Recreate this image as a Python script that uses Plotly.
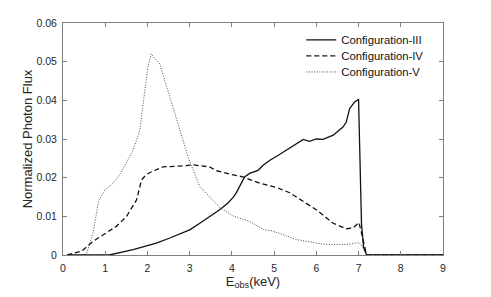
import plotly.graph_objects as go

# Configuration-III (solid)
x3 = [0.1, 0.5, 1.1, 1.66, 2.21, 2.53, 3.0, 3.24, 3.47, 3.71, 3.9, 4.03, 4.1, 4.2, 4.3, 4.42, 4.5, 4.62, 4.74, 4.9,
      5.1, 5.29, 5.53, 5.69, 5.84, 6.0, 6.16, 6.4, 6.63, 6.71, 6.79, 6.91, 7.0, 7.07, 7.12, 7.19, 8.0, 9.0]
y3 = [0.0, 0.0, 0.0, 0.0014, 0.0031, 0.0044, 0.0065, 0.0082, 0.0099, 0.0117, 0.0134, 0.0149, 0.016, 0.018, 0.0202, 0.0211, 0.0215, 0.0219, 0.0232, 0.0245,
      0.0258, 0.0271, 0.0289, 0.0299, 0.0294, 0.030, 0.0299, 0.031, 0.0331, 0.0344, 0.0379, 0.0396, 0.0403, 0.008, 0.002, 0.0, 0.0, 0.0]

# Configuration-IV (dashed)
x4 = [0.1, 0.44, 0.71, 1.03, 1.26, 1.5, 1.74, 1.86, 1.97, 2.13, 2.37, 2.76, 3.08, 3.47, 3.63, 3.95, 4.26, 4.66, 5.05,
      5.37, 5.53, 6.0, 6.4, 6.55, 6.71, 6.87, 7.01, 7.07, 7.19, 8.0, 9.0]
y4 = [0.0, 0.0010, 0.0035, 0.0057, 0.0074, 0.0099, 0.0142, 0.0194, 0.0208, 0.0217, 0.0228, 0.0230, 0.0233, 0.0228, 0.0218, 0.0209, 0.0202, 0.0186, 0.0175,
      0.0161, 0.0150, 0.0117, 0.0082, 0.0076, 0.0068, 0.0070, 0.0084, 0.0057, 0.0, 0.0, 0.0]

# Configuration-V (dotted)
x5 = [0.1, 0.55, 0.71, 0.85, 0.99, 1.18, 1.34, 1.54, 1.66, 1.82, 1.94, 2.01, 2.09, 2.29, 2.53, 2.76, 2.96, 3.24, 3.4,
      3.71, 4.03, 4.42, 4.74, 4.97, 5.53, 5.77, 6.16, 6.55, 6.79, 6.99, 7.07, 7.19, 8.0, 9.0]
y5 = [0.0, 0.0, 0.0057, 0.0142, 0.0168, 0.0185, 0.0207, 0.0245, 0.0271, 0.0323, 0.0426, 0.0486, 0.0520, 0.0494, 0.0409, 0.0323, 0.0254, 0.0177, 0.0158,
      0.0123, 0.0101, 0.0087, 0.0066, 0.0062, 0.0040, 0.0036, 0.0028, 0.0027, 0.0028, 0.0032, 0.0026, 0.0, 0.0, 0.0]

names = ["Configuration-III", "Configuration-IV", "Configuration-V"]
x_ticks = [0, 1, 2, 3, 4, 5, 6, 7, 8, 9]
y_ticks = [0, 0.01, 0.02, 0.03, 0.04, 0.05, 0.06]
y_labels = ["0", "0.01", "0.02", "0.03", "0.04", "0.05", "0.06"]

FONT = "Liberation Sans, Arial"

fig = go.Figure()
fig.add_trace(go.Scatter(x=x3, y=y3, mode="lines", name=names[0], legend="legend",
                         line=dict(color="#111111", width=1.3, dash="solid")))
fig.add_trace(go.Scatter(x=x4, y=y4, mode="lines", name=names[1], legend="legend2",
                         line=dict(color="#111111", width=1.3, dash="5px,3px")))
fig.add_trace(go.Scatter(x=x5, y=y5, mode="lines", name=names[2], legend="legend3",
                         line=dict(color="#333333", width=0.9, dash="1px,1.6px")))

axis_common = dict(showline=True, linecolor="#7f7f7f", linewidth=1, mirror="ticks",
                   ticks="inside", ticklen=4, tickcolor="#7f7f7f", showgrid=False,
                   zeroline=False, ticklabelstandoff=3, automargin=False,
                   tickfont=dict(family=FONT, size=10.5, color="#262626"))

fig.update_xaxes(range=[0, 9], tickvals=x_ticks, **axis_common,
                 title=dict(text="E<sub>obs</sub>(keV)", font=dict(family=FONT, size=13, color="#262626"),
                            standoff=3))
fig.update_yaxes(range=[0, 0.06], tickvals=y_ticks, ticktext=y_labels, **axis_common,
                 title=dict(text="Normalized Photon Flux", font=dict(family=FONT, size=13, color="#262626"),
                            standoff=0))

leg = dict(xanchor="left", yanchor="middle", bgcolor="rgba(0,0,0,0)",
           font=dict(family=FONT, size=11.3, color="#111111"), itemwidth=30,
           borderwidth=0)

fig.update_layout(
    width=483, height=289,
    margin=dict(l=55, r=48, t=15, b=42, autoexpand=False),
    paper_bgcolor="white", plot_bgcolor="white",
    showlegend=True,
    legend=dict(x=0.627, y=0.927, **leg),
    legend2=dict(x=0.627, y=0.858, **leg),
    legend3=dict(x=0.627, y=0.789, **leg),
)

fig.write_html("out.html")
